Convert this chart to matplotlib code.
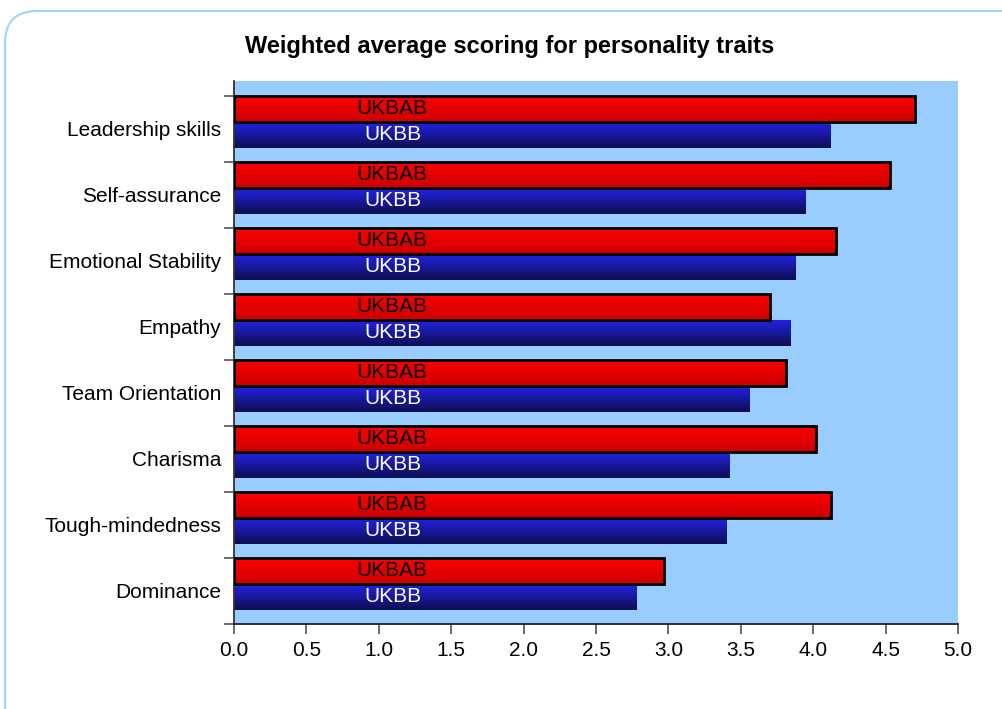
import numpy as np
import matplotlib
matplotlib.use("Agg")
import matplotlib.pyplot as plt
from matplotlib.patches import FancyBboxPatch, Rectangle

plt.rcParams['font.family'] = ['Liberation Sans', 'DejaVu Sans']

# Personality traits, bottom to top as drawn
traits = ["Dominance", "Tough-mindedness", "Charisma", "Team Orientation",
          "Empathy", "Emotional Stability", "Self-assurance", "Leadership skills"]
ukbab = [2.97, 4.12, 4.02, 3.81, 3.70, 4.16, 4.53, 4.70]
ukbb = [2.78, 3.40, 3.42, 3.56, 3.84, 3.88, 3.95, 4.12]
series_names = ["UKBAB", "UKBB"]
xticks = [0.0, 0.5, 1.0, 1.5, 2.0, 2.5, 3.0, 3.5, 4.0, 4.5, 5.0]

W, H = 1003, 709
fig = plt.figure(figsize=(W / 100, H / 100), dpi=100)

# rounded frame around the chart (runs off the right and bottom edges)
frame = FancyBboxPatch((5, -200), 1200, H - 11 + 200,
                       boxstyle="round,pad=0,rounding_size=32",
                       transform=None, facecolor="none", edgecolor="#a9d2ff",
                       linewidth=1.6, zorder=0)
fig.patches.append(frame)

ax = fig.add_axes([234 / W, 1 - 624 / H, (958 - 234) / W, (624 - 81) / H])
ax.set_facecolor("#99ccff")

band_top = 7.727
bar_h = 0.394
offset = 0.11
ax.set_xlim(0, 5)
ax.set_ylim(-0.5, band_top)


def gradient_img(top_rgb, bot_rgb, nx, ny, texture=False):
    t = np.linspace(0, 1, ny)[:, None, None]
    top = np.array(top_rgb, float)[None, None, :]
    bot = np.array(bot_rgb, float)[None, None, :]
    img = top * (1 - t) + bot * t
    img = np.repeat(img, nx, axis=1)
    if texture:
        yy, xx = np.mgrid[0:ny, 0:nx]
        pat = (((xx + yy) % 4 == 0) | ((xx - yy) % 4 == 0)).astype(float)
        img = img * (1 - 0.06 * pat[:, :, None])
    return np.clip(img / 255.0, 0, 1)


def filled_bar(value, y0, y1, top_rgb, bot_rgb, texture=False):
    """Fill the bar [0, value] x [y0, y1] with a pixel-aligned gradient image."""
    (px0, py0), (px1, py1) = ax.transData.transform([(0, y0), (value, y1)])
    fx0, fy0 = np.floor(px0), np.floor(py0)
    fx1, fy1 = np.ceil(px1), np.ceil(py1)
    nx, ny = int(fx1 - fx0), int(fy1 - fy0)
    inv = ax.transData.inverted()
    (dx0, dy0), (dx1, dy1) = inv.transform([(fx0, fy0), (fx1, fy1)])
    im = ax.imshow(gradient_img(top_rgb, bot_rgb, nx, ny, texture),
                   extent=[dx0, dx1, dy0, dy1], aspect="auto", origin="upper",
                   interpolation="nearest", zorder=2)
    clip = Rectangle((0, y0), value, y1 - y0, transform=ax.transData)
    im.set_clip_path(clip)


for i, (r, b) in enumerate(zip(ukbab, ukbb)):
    c = i + offset
    # red bar (UKBAB) on top
    filled_bar(r, c, c + bar_h, (255, 0, 0), (205, 0, 0))
    ax.barh(c + bar_h / 2, r, height=bar_h, color="none", edgecolor="black",
            linewidth=2, zorder=3)
    # textured blue bar (UKBB) below
    filled_bar(b, c - bar_h, c, (36, 36, 240), (14, 14, 85), texture=True)
    ax.text(1.09, c + bar_h / 2, series_names[0], ha="center", va="center",
            fontsize=15, color="black", zorder=4)
    ax.text(1.1, c - bar_h / 2, series_names[1], ha="center", va="center",
            fontsize=15, color="white", zorder=4)

ax.set_xlim(0, 5)
ax.set_ylim(-0.5, band_top)
ax.set_xticks(xticks)
ax.set_xticklabels([f"{v:.1f}" for v in xticks], fontsize=15)
ax.set_yticks(np.arange(len(traits) + 1) - 0.5)
ax.set_yticklabels([])
ax.set_yticks(np.arange(len(traits)), minor=True)
ax.set_yticklabels(traits, minor=True, fontsize=15)
ax.tick_params(axis="y", which="minor", length=0, pad=9)
ax.tick_params(axis="y", which="major", length=7, color="#555555", width=1.2)
ax.tick_params(axis="x", length=7, color="#555555", width=1.2, pad=5)

for s in ["top", "right"]:
    ax.spines[s].set_visible(False)
ax.spines["left"].set_color("#333333")
ax.spines["bottom"].set_color("#222222")
ax.spines["left"].set_linewidth(1.3)
ax.spines["bottom"].set_linewidth(1.3)

fig.text(510 / W, 1 - 46 / H, "Weighted average scoring for personality traits",
         ha="center", va="center", fontsize=17, fontweight="bold")

fig.savefig("out.png", dpi=100)
